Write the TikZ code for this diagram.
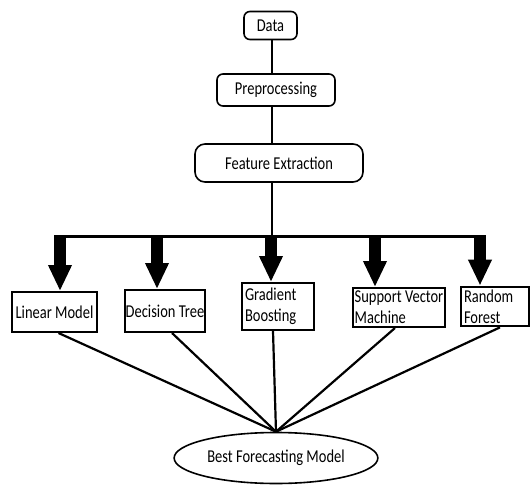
\documentclass[tikz,border=0pt]{standalone}
\usepackage{fontspec}
\usepackage{graphicx}
\setmainfont{Carlito}
\usetikzlibrary{arrows.meta,shapes.geometric}

\newcommand{\tallt}[1]{\scalebox{1}[1.25]{#1}}

\tikzset{
    stepbox/.style={draw, line width=1.6pt, rounded corners=6pt, inner sep=2pt,
        font=\fontsize{14.5}{17}\selectfont},
    modelbox/.style={draw, line width=2pt, inner sep=3pt, align=left,
        font=\fontsize{14.5}{21}\selectfont},
    link/.style={line width=2.2pt},
    fatarrow/.style={line width=12pt, -{Triangle[width=22pt,length=26pt]}}
}

\begin{document}
\begin{tikzpicture}[x=1pt, y=-1pt]
        \useasboundingbox (0,0) rectangle (531,485);

        \node[stepbox, minimum width=53pt, minimum height=28pt] (data) at (270.5,25.5) {\tallt{Data}};
        \node[stepbox, minimum width=118pt, minimum height=32pt] (pre) at (276,90) {\tallt{Preprocessing}};
        \node[stepbox, rounded corners=10pt, minimum width=168pt, minimum height=38pt] (feat) at (279,163) {\tallt{Feature Extraction}};

        \node[modelbox, minimum width=85pt, minimum height=40pt] (lin) at (54.5,312) {\tallt{Linear Model}};
        \node[modelbox, inner sep=1pt, minimum width=80pt, minimum height=42pt] (tree) at (165,311) {\tallt{Decision Tree}};
        \node[modelbox, text width=66pt, minimum height=47pt] (gb) at (278,306.5) {\tallt{Gradient}\\\tallt{Boosting}};
        \node[modelbox, inner sep=1pt, minimum width=92pt, minimum height=39pt] (svm) at (399,307.5) {\tallt{Support Vector}\\\tallt{Machine}};
        \node[modelbox, text width=62pt, minimum height=39pt] (rf) at (495,306.5) {\tallt{Random}\\\tallt{Forest}};

        \node[draw, ellipse, line width=1.6pt, minimum width=183pt, minimum height=51pt,
            font=\fontsize{14.5}{17}\selectfont] (best) at (276,458) {\tallt{Best Forecasting Model}};

        \coordinate (spine) at (272,236);
        \coordinate (a1) at (60,236);
        \coordinate (a2) at (157,236);
        \coordinate (a3) at (271,236);
        \coordinate (a4) at (375,236);
        \coordinate (a5) at (480,236);

        \draw[link] (data.south -| spine) -- (pre.north -| spine);
        \draw[link] (pre.south -| spine) -- (feat.north -| spine);
        \draw[link] (feat.south -| spine) -- (spine);
        \draw[line width=3pt] ([xshift=-6pt]a1) -- ([xshift=6pt]a5);

        \draw[fatarrow] (a1) -- (a1 |- lin.north);
        \draw[fatarrow] (a2) -- (a2 |- tree.north);
        \draw[fatarrow] (a3) -- (a3 |- gb.north);
        \draw[fatarrow] (a4) -- (a4 |- svm.north);
        \draw[fatarrow] (a5) -- (a5 |- rf.north);

        \foreach \m/\dx in {lin/4, tree/7, gb/-5, svm/-4, rf/5}
            \draw[link] ([xshift=\dx pt]\m.south) -- (best.north);
    \end{tikzpicture}
\end{document}
